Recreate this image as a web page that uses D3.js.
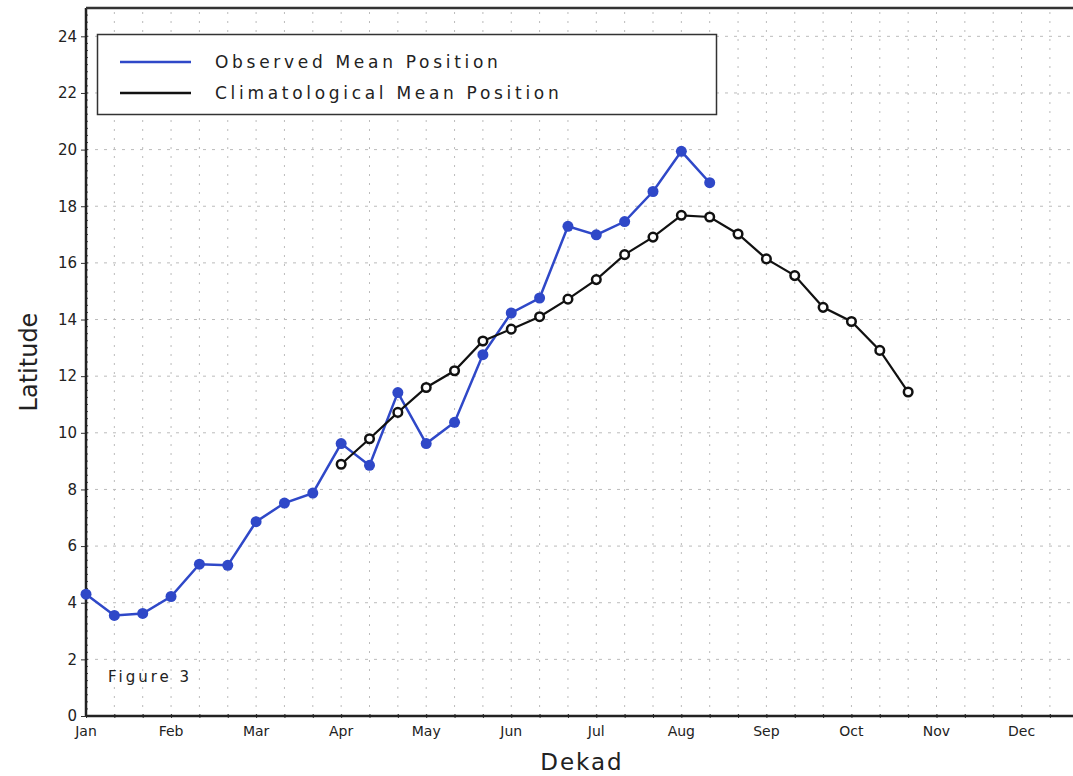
<!DOCTYPE html>
<html>
<head>
<meta charset="utf-8">
<script src="https://cdn.jsdelivr.net/npm/d3@7"></script>
<style>
  html, body { margin: 0; padding: 0; background: #fff; overflow: hidden; }
  svg { display: block; }
  text { font-family: "DejaVu Sans", sans-serif; fill: #222; }
</style>
</head>
<body>
<svg id="chart" width="1073" height="776"></svg>
<script>
// ---- data ----
const months = ["Jan","Feb","Mar","Apr","May","Jun","Jul","Aug","Sep","Oct","Nov","Dec"];
const yTicks = [0,2,4,6,8,10,12,14,16,18,20,22,24];
// observed: dekad index 0.. (Jan dekad 1 = 0)
const observed = [4.3,3.55,3.62,4.22,5.36,5.32,6.86,7.52,7.87,9.62,8.85,11.42,9.62,10.37,12.76,14.23,14.76,17.29,16.99,17.46,18.52,19.94,18.83];
const observedStart = 0;
// climatological: begins at April dekad 1 (index 9)
const climatology = [8.89,9.79,10.72,11.6,12.19,13.24,13.66,14.1,14.72,15.41,16.29,16.91,17.68,17.62,17.02,16.14,15.55,14.43,13.93,12.91,11.44];
const climStart = 9;
const legendLabels = ["Observed Mean Position","Climatological Mean Position"];
const colors = ["#2f48c8","#111111"];

// ---- layout ----
const svg = d3.select("#chart");
const x0 = 86, yBottom = 716, yTop = 8;
const x = d3.scaleLinear().domain([0, 35]).range([x0, x0 + 35 * 28.35]);
const y = d3.scaleLinear().domain([0, 25]).range([yBottom, yTop]);
const xMax = 1073;

// grid
const grid = svg.append("g");
d3.range(1, 36).forEach(i => {
  grid.append("line")
    .attr("x1", x(i)).attr("x2", x(i)).attr("y1", yBottom).attr("y2", yTop)
    .attr("stroke", "#bbb").attr("stroke-width", 1).attr("stroke-dasharray", "2,7");
});
yTicks.filter(v => v > 0).forEach(v => {
  grid.append("line")
    .attr("x1", x0).attr("x2", xMax).attr("y1", y(v)).attr("y2", y(v))
    .attr("stroke", "#bbb").attr("stroke-width", 1).attr("stroke-dasharray", "3,6");
});

// axes
const yAxis = d3.axisLeft(y).tickValues(yTicks).tickSize(5).tickPadding(4);
const gy = svg.append("g").attr("transform", `translate(${x0},0)`).call(yAxis);
gy.select(".domain").remove();
gy.selectAll("line").attr("stroke", "#333");
gy.selectAll("text").style("font-size", "15px").attr("fill", "#333");

// minor ticks on left axis
const minor = d3.range(0, 25.01, 0.25);
svg.append("g").selectAll("line").data(minor).join("line")
  .attr("x1", x0).attr("x2", x0 + 2).attr("y1", d => y(d)).attr("y2", d => y(d))
  .attr("stroke", "#444").attr("stroke-width", 1);

const xAxis = d3.axisBottom(x).tickValues(d3.range(0, 36)).tickSize(4).tickFormat(() => "");
const gx = svg.append("g").attr("transform", `translate(0,${yBottom - 2})`).call(xAxis);
gx.select(".domain").remove();
gx.selectAll("line").attr("stroke", "#333");

// month labels
svg.append("g").selectAll("text").data(months).join("text")
  .attr("x", (d, i) => x(i * 3)).attr("y", 736)
  .attr("text-anchor", "middle").style("font-size", "14px").attr("fill", "#333")
  .text(d => d);

// frame
svg.append("line").attr("x1", x0).attr("x2", xMax).attr("y1", yBottom).attr("y2", yBottom)
  .attr("stroke", "#222").attr("stroke-width", 2.5);
svg.append("line").attr("x1", x0).attr("x2", x0).attr("y1", yTop).attr("y2", yBottom)
  .attr("stroke", "#222").attr("stroke-width", 2.5);
svg.append("line").attr("x1", x0).attr("x2", xMax).attr("y1", yTop).attr("y2", yTop)
  .attr("stroke", "#333").attr("stroke-width", 2.5);

// series
const line = d3.line().x(d => x(d.i)).y(d => y(d.v));
const obsData = observed.map((v, k) => ({ i: observedStart + k, v }));
const climData = climatology.map((v, k) => ({ i: climStart + k, v }));

svg.append("path").datum(obsData).attr("d", line)
  .attr("fill", "none").attr("stroke", colors[0]).attr("stroke-width", 2.5);
svg.append("g").selectAll("circle").data(obsData).join("circle")
  .attr("cx", d => x(d.i)).attr("cy", d => y(d.v)).attr("r", 5.5)
  .attr("fill", colors[0]);

svg.append("path").datum(climData).attr("d", line)
  .attr("fill", "none").attr("stroke", colors[1]).attr("stroke-width", 2.2);
svg.append("g").selectAll("circle").data(climData).join("circle")
  .attr("cx", d => x(d.i)).attr("cy", d => y(d.v)).attr("r", 4.3)
  .attr("fill", "#fff").attr("stroke", colors[1]).attr("stroke-width", 2.5);

// legend
const lg = svg.append("g");
lg.append("rect").attr("x", 97.5).attr("y", 34.5).attr("width", 619).attr("height", 80)
  .attr("fill", "#fff").attr("stroke", "#333").attr("stroke-width", 1.5);
legendLabels.forEach((t, k) => {
  const yy = 62 + k * 31;
  lg.append("line").attr("x1", 120).attr("x2", 191).attr("y1", yy).attr("y2", yy)
    .attr("stroke", colors[k]).attr("stroke-width", 2.5);
  lg.append("text").attr("x", 215).attr("y", yy + 6)
    .style("font-size", "17px").style("letter-spacing", "3.7px").attr("fill", "#444")
    .text(t);
});

// labels
svg.append("text").attr("x", 108).attr("y", 682).style("font-size", "15px")
  .style("letter-spacing", "3px").attr("fill", "#333").text("Figure 3");
svg.append("text").attr("transform", "translate(37,362) rotate(-90)")
  .attr("text-anchor", "middle").style("font-size", "24px").attr("fill", "#222").text("Latitude");
svg.append("text").attr("x", 582).attr("y", 770).attr("text-anchor", "middle")
  .style("font-size", "23px").style("letter-spacing", "2px").attr("fill", "#222").text("Dekad");
</script>
</body>
</html>
